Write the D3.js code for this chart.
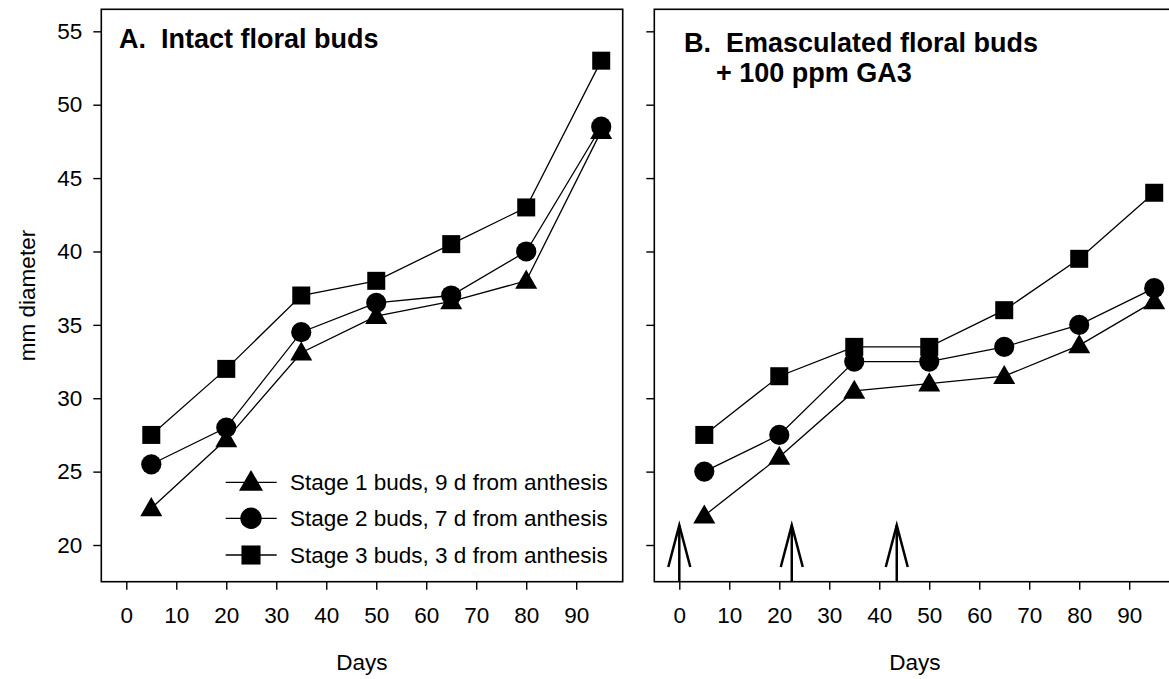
<!DOCTYPE html>
<html>
<head>
<meta charset="utf-8">
<script src="https://cdn.jsdelivr.net/npm/d3@7/dist/d3.min.js"></script>
<style>
  body { margin: 0; background: #fff; }
  svg { display: block; font-family: "Liberation Sans", Arial, sans-serif; }
</style>
</head>
<body>
<svg id="root" width="1169" height="679"></svg>
<script>
// data
const days = [5, 20, 35, 50, 65, 80, 95]
const xTicks = [0, 10, 20, 30, 40, 50, 60, 70, 80, 90]
const yTicks = [20, 25, 30, 35, 40, 45, 50, 55]
const legendLabels = [
  'Stage 1 buds, 9 d from anthesis',
  'Stage 2 buds, 7 d from anthesis',
  'Stage 3 buds, 3 d from anthesis'
]
const intactStage1 = [22.5, 27.2, 33.1, 35.6, 36.6, 38, 48.2]
const intactStage2 = [25.5, 28, 34.5, 36.5, 37, 40, 48.5]
const intactStage3 = [27.5, 32, 37, 38, 40.5, 43, 53]
const emascStage1 = [22, 26, 30.5, 31, 31.5, 33.6, 36.6]
const emascStage2 = [25, 27.5, 32.5, 32.5, 33.5, 35, 37.5]
const emascStage3 = [27.5, 31.5, 33.5, 33.5, 36, 39.5, 44]
const gaDays = [0, 22.5, 43.5] // arrows in panel B

const FS = 22.5
const root = d3.select('#root')

const y = d3.scaleLinear().domain([17.5, 56.5]).range([581.7, 9.3])
const shapes = [d3.symbolTriangle, d3.symbolCircle, d3.symbolSquare]
const sizes = [210, 320, 324]
const triShift = 1.5

function panel (left, series, showYLabels) {
  const x = d3.scaleLinear().domain([-5, 99.3]).range([left, left + 521.4])
  const g = root.append('g')

  g.append('rect')
    .attr('x', x.range()[0]).attr('y', y.range()[1])
    .attr('width', x.range()[1] - x.range()[0])
    .attr('height', y.range()[0] - y.range()[1])
    .attr('fill', 'none').attr('stroke', '#000').attr('stroke-width', 1.6)

  const xa = g.append('g')
    .attr('transform', `translate(0,${y.range()[0]})`)
    .call(d3.axisBottom(x).tickValues(xTicks).tickSize(8).tickSizeOuter(0).tickPadding(17))
  xa.select('.domain').remove()
  xa.selectAll('line').attr('stroke-width', 1.4)
  xa.selectAll('text')
    .attr('font-size', FS).attr('fill', '#000')

  const ya = g.append('g')
    .attr('transform', `translate(${x.range()[0]},0)`)
    .call(d3.axisLeft(y).tickValues(yTicks).tickSize(8).tickSizeOuter(0))
  ya.select('.domain').remove()
  ya.selectAll('line').attr('stroke-width', 1.4)
  if (showYLabels) {
    ya.selectAll('text')
      .attr('font-size', FS).attr('fill', '#000')
      .attr('x', -19)
  } else {
    ya.selectAll('text').remove()
  }
  g.selectAll('.tick text').attr('font-family', '"Liberation Sans", Arial, sans-serif')

  const line = d3.line().x((d, i) => x(days[i])).y(d => y(d))
  series.forEach((s, k) => {
    g.append('path').datum(s)
      .attr('d', line).attr('fill', 'none')
      .attr('stroke', '#000').attr('stroke-width', 1.3)
  })
  series.forEach((s, k) => {
    g.selectAll(null).data(s).enter().append('path')
      .attr('d', d3.symbol(shapes[k], sizes[k]))
      .attr('transform', (d, i) => `translate(${x(days[i])},${y(d) + (k === 0 ? triShift : 0)})`)
      .attr('fill', '#000')
  })

  g.append('text')
    .attr('x', (x.range()[0] + x.range()[1]) / 2).attr('y', 670)
    .attr('text-anchor', 'middle').attr('font-size', FS)
    .text('Days')

  return { g, x }
}

const A = panel(101.3, [intactStage1, intactStage2, intactStage3], true)
const B = panel(654.3, [emascStage1, emascStage2, emascStage3], false)

// y axis title
root.append('text')
  .attr('transform', 'translate(35,295.5) rotate(-90)')
  .attr('text-anchor', 'middle').attr('font-size', FS)
  .text('mm diameter')

// panel titles
root.append('text')
  .attr('x', 119).attr('y', 47.7)
  .attr('font-size', 27).attr('font-weight', 'bold')
  .text('A.\u00a0\u00a0Intact floral buds')
root.append('text')
  .attr('x', 684).attr('y', 52)
  .attr('font-size', 27).attr('font-weight', 'bold')
  .text('B.\u00a0\u00a0Emasculated floral buds')
root.append('text')
  .attr('x', 716).attr('y', 82)
  .attr('font-size', 27).attr('font-weight', 'bold')
  .text('+ 100 ppm GA3')

// legend in panel A
const legRows = [482.3, 518.3, 555]
const leg = A.g.append('g')
legendLabels.forEach((t, k) => {
  leg.append('line')
    .attr('x1', 225.7).attr('x2', 276.7)
    .attr('y1', legRows[k]).attr('y2', legRows[k])
    .attr('stroke', '#000').attr('stroke-width', 1.3)
  leg.append('path')
    .attr('d', d3.symbol(shapes[k], sizes[k] + 40))
    .attr('transform', `translate(251,${legRows[k] + (k === 0 ? triShift : 0)})`)
  leg.append('text')
    .attr('x', 290).attr('y', legRows[k] + 8)
    .attr('font-size', FS)
    .text(t)
})

// GA3 application arrows in panel B
const tipY = y(21.35)
const headY = y(18.5)
const arrows = B.g.selectAll(null).data(gaDays).enter().append('g')
  .attr('fill', 'none').attr('stroke', '#000').attr('stroke-width', 2.5)
arrows.append('line')
  .attr('x1', d => B.x(d)).attr('x2', d => B.x(d))
  .attr('y1', tipY).attr('y2', y.range()[0])
arrows.append('path')
  .attr('d', d => `M${B.x(d) - 11},${headY}L${B.x(d)},${tipY}L${B.x(d) + 11},${headY}`)
</script>
</body>
</html>
